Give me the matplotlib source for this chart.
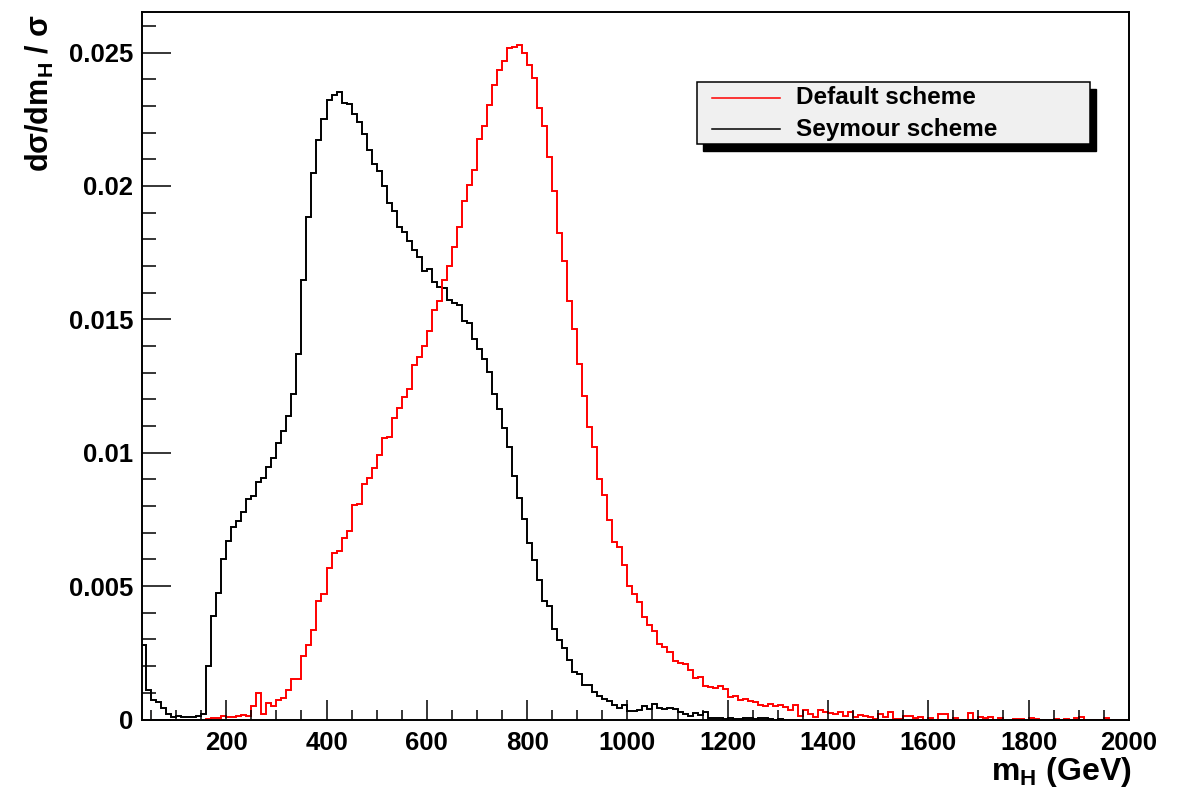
import numpy as np
import matplotlib
matplotlib.use("Agg")
import matplotlib.pyplot as plt
from matplotlib.patches import Rectangle
from matplotlib.lines import Line2D
from matplotlib.ticker import MultipleLocator, FuncFormatter

plt.rcParams['font.family'] = ['Liberation Sans', 'DejaVu Sans']
plt.rcParams['font.weight'] = 'bold'
plt.rcParams['mathtext.fontset'] = 'custom'
plt.rcParams['mathtext.rm'] = 'Liberation Sans:bold'
plt.rcParams['mathtext.bf'] = 'Liberation Sans:bold'
plt.rcParams['mathtext.it'] = 'Liberation Sans:bold'

# 10 GeV bins from 30 to 2000 GeV
edges = np.arange(30, 2001, 10)

seymour = [
    0.00280, 0.00111, 0.00074, 0.00065, 0.00044, 0.00021, 0.00011,
    0.00015, 0.00008, 0.00008, 0.00008, 0.00012, 0.00020, 0.00200, 0.00387, 0.00476, 0.00603,
    0.00671, 0.00721, 0.00746, 0.00777, 0.00825, 0.00836, 0.00889, 0.00905, 0.00948, 0.00981,
    0.01037, 0.01081, 0.01138, 0.01221, 0.01371, 0.01649, 0.01883, 0.02047, 0.02174, 0.02252,
    0.02322, 0.02341, 0.02352, 0.02312, 0.02309, 0.02268, 0.02241, 0.02196, 0.02134, 0.02082,
    0.02055, 0.02001, 0.01938, 0.01907, 0.01848, 0.01827, 0.01794, 0.01759, 0.01732, 0.01681,
    0.01689, 0.01641, 0.01620, 0.01616, 0.01571, 0.01563, 0.01552, 0.01493, 0.01485, 0.01427,
    0.01389, 0.01350, 0.01301, 0.01222, 0.01165, 0.01091, 0.01023, 0.00913, 0.00829, 0.00752,
    0.00662, 0.00597, 0.00523, 0.00446, 0.00425, 0.00339, 0.00298, 0.00269, 0.00223, 0.00179,
    0.00171, 0.00130, 0.00130, 0.00102, 0.00089, 0.00076, 0.00069, 0.00056, 0.00045, 0.00053,
    0.00031, 0.00031, 0.00036, 0.00050, 0.00040, 0.00058, 0.00045, 0.00040, 0.00045, 0.00038,
    0.00030, 0.00020, 0.00012, 0.00025, 0.00018, 0.00028, 0.00005, 0.00004, 0.00004, 0.00003,
    0.00006, 0.00003, 0.00002, 0.00006, 0.00006, 0.00002, 0.00005, 0.00005, 0.00002, 0.0,
    0.00002, 0.0, 0.0, 0.0, 0.0, 0.0, 0.0, 0.0, 0.0, 0.0,
] + [0.0] * 60

default = [
    0.0, 0.0, 0.0, 0.0, 0.0, 0.0, 0.0,
    0.0, 0.0, 0.0, 0.0, 0.0, 0.0, 0.00002, 0.00004, 0.00006, 0.00012,
    0.00010, 0.00008, 0.00014, 0.00017, 0.00015, 0.00051, 0.00098, 0.00022, 0.00062, 0.00051,
    0.00075, 0.00081, 0.00110, 0.00153, 0.00153, 0.00237, 0.00281, 0.00335, 0.00444, 0.00471,
    0.00569, 0.00626, 0.00631, 0.00682, 0.00706, 0.00804, 0.00809, 0.00881, 0.00905, 0.00941,
    0.00992, 0.01056, 0.01059, 0.01131, 0.01167, 0.01210, 0.01239, 0.01329, 0.01358, 0.01402,
    0.01458, 0.01536, 0.01568, 0.01649, 0.01699, 0.01773, 0.01846, 0.01943, 0.02002, 0.02060,
    0.02176, 0.02225, 0.02305, 0.02377, 0.02435, 0.02469, 0.02518, 0.02521, 0.02527, 0.02500,
    0.02453, 0.02404, 0.02292, 0.02223, 0.02109, 0.01981, 0.01822, 0.01719, 0.01568, 0.01462,
    0.01334, 0.01214, 0.01096, 0.01023, 0.00903, 0.00842, 0.00747, 0.00667, 0.00646, 0.00580,
    0.00501, 0.00471, 0.00441, 0.00384, 0.00353, 0.00330, 0.00284, 0.00271, 0.00252, 0.00218,
    0.00213, 0.00209, 0.00186, 0.00155, 0.00161, 0.00125, 0.00121, 0.00117, 0.00124, 0.00115,
    0.00084, 0.00090, 0.00075, 0.00076, 0.00071, 0.00065, 0.00055, 0.00049, 0.00059, 0.00050,
    0.00055, 0.00046, 0.00036, 0.00055, 0.00015, 0.00037, 0.00021, 0.00011, 0.00036, 0.00027,
    0.00025, 0.00019, 0.00030, 0.00012, 0.00030, 0.00009, 0.00018, 0.00015, 0.00009, 0.00001,
    0.00021, 0.00011, 0.00030, 0.00003, 0.00003, 0.00013, 0.00013, 0.00006, 0.00008, 0.0,
    0.00007, 0.0, 0.00022, 0.00019, 0.0, 0.00007, 0.0, 0.0, 0.00025, 0.0,
    0.00011, 0.00005, 0.00009, 0.0, 0.00007, 0.0, 0.0, 0.00002, 0.00002, 0.0,
    0.00005, 0.00002, 0.0, 0.0, 0.0, 0.00003, 0.0, 0.00002, 0.0, 0.00005,
    0.00011, 0.0, 0.0, 0.0, 0.0, 0.00005, 0.0, 0.0, 0.0, 0.0,
]

labels = ["Default scheme", "Seymour scheme"]
colors = ["red", "black"]

fig = plt.figure(figsize=(11.84, 7.94), dpi=100)
ax = fig.add_axes([0.1197, 0.0938, 0.8337, 0.8915])

ax.stairs(seymour, edges, color=colors[1], linewidth=1.4)
ax.stairs(default, edges, color=colors[0], linewidth=1.4)

ax.set_xlim(31.5, 2000)
ax.set_ylim(0, 1.05 * max(default))

ax.xaxis.set_major_locator(MultipleLocator(200))
ax.xaxis.set_minor_locator(MultipleLocator(50))
ax.yaxis.set_major_locator(MultipleLocator(0.005))
ax.yaxis.set_minor_locator(MultipleLocator(0.001))
ax.yaxis.set_major_formatter(FuncFormatter(lambda v, p: "%g" % round(v, 4)))

for s in ax.spines.values():
    s.set_linewidth(1.4)
ax.tick_params(which="both", direction="in", top=False, right=False,
               width=1.1, labelsize=18.5)
ax.tick_params(axis="x", which="major", length=14.4, pad=8)
ax.tick_params(axis="x", which="minor", length=7.2)
ax.tick_params(axis="y", which="major", length=20.9, pad=6)
ax.tick_params(axis="y", which="minor", length=10)

fig.text(40 / 1184, 1 - 14 / 794, r"dσ/dm$_\mathrm{H}$ / σ", rotation=90,
         ha="center", va="top", fontsize=22, fontweight="bold")
fig.text(1131 / 1184, 1 - 772 / 794, r"m$_\mathrm{H}$ (GeV)",
         ha="right", va="center", fontsize=23, fontweight="bold")

# legend box with a solid drop shadow
x0, x1, y0, y1 = 0.5623, 0.9607, 0.8131, 0.9003
ax.add_patch(Rectangle((x0 + 0.0061, y0 - 0.0099), x1 - x0, y1 - y0,
                       transform=ax.transAxes, facecolor="black",
                       edgecolor="black", zorder=5, clip_on=False))
ax.add_patch(Rectangle((x0, y0), x1 - x0, y1 - y0, transform=ax.transAxes,
                       facecolor="#f0f0f0", edgecolor="black", linewidth=1.1,
                       zorder=6, clip_on=False))
for ly, lab, col in zip([0.8785, 0.8339], labels, colors):
    ax.add_line(Line2D([0.5774, 0.6466], [ly, ly], transform=ax.transAxes,
                       color=col, linewidth=1.1, zorder=7))
    ax.text(0.6629, ly, lab, transform=ax.transAxes, ha="left", va="center",
            fontsize=17.5, fontweight="bold", zorder=7)

fig.savefig("out.png", dpi=100)
